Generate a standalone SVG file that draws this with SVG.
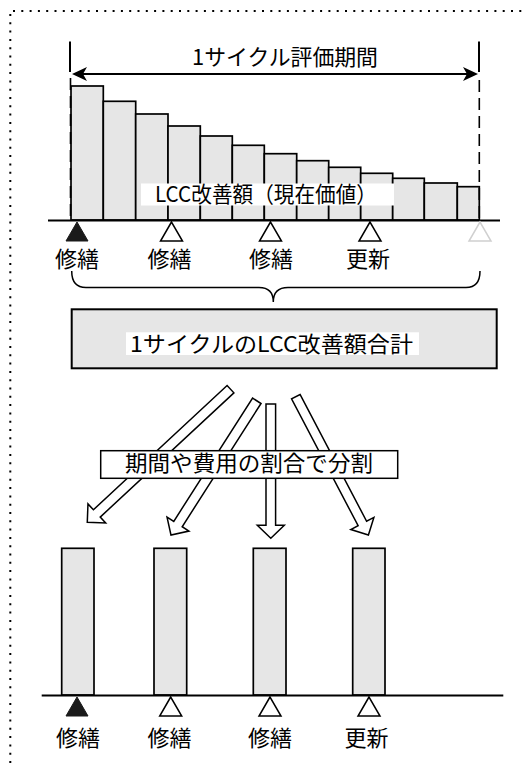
<svg xmlns="http://www.w3.org/2000/svg" width="525" height="766" viewBox="0 0 525 766">
<style>
  .t { font-family: "Noto Sans CJK JP", "Noto Sans", sans-serif; font-size: 22px; fill: #000; }
  .bar { fill: #e6e6e6; stroke: #000; stroke-width: 1.7; }
  .ax { stroke: #000; stroke-width: 2; fill: none; }
  .tri { fill: #fff; stroke: #000; stroke-width: 1.5; stroke-linejoin: miter; }
  .trib { fill: #1a1a1a; stroke: #1a1a1a; stroke-width: 1; }
  .blk { fill: #fff; stroke: #000; stroke-width: 1.5; stroke-linejoin: miter; }
  .dots { stroke: #000; stroke-width: 2; stroke-dasharray: 2 6.3; }
  .dash { stroke: #000; stroke-width: 1.6; stroke-dasharray: 12 6; fill: none; }
</style>
<defs>
  <polygon id="triU" points="0,0 -11,19 11,19"/>
</defs>
<g id="frame">
  <line class="dots" x1="13" y1="11" x2="525" y2="11"/>
  <line class="dots" x1="10.3" y1="14" x2="10.3" y2="766"/>
</g>
<g id="period">
  <line class="ax" x1="70" y1="41.5" x2="70" y2="72"/>
  <line class="ax" x1="479" y1="41.5" x2="479" y2="72"/>
  <line x1="80" y1="74" x2="470" y2="74" stroke="#000" stroke-width="2.2"/>
  <polygon points="72,74 87,67 83,74 87,81" fill="#000"/>
  <polygon points="478,74 463,67 467,74 463,81" fill="#000"/>
  <text class="t" x="285" y="64.5" text-anchor="middle" textLength="186" lengthAdjust="spacingAndGlyphs">1サイクル評価期間</text>
</g>
<g id="bars-top">
  <rect class="bar" x="71" y="86" width="32.3" height="134"/>
  <rect class="bar" x="103.3" y="101.3" width="32.4" height="118.7"/>
  <rect class="bar" x="135.7" y="114" width="32.3" height="106"/>
  <rect class="bar" x="168" y="126" width="32.3" height="94"/>
  <rect class="bar" x="200.3" y="136" width="32" height="84"/>
  <rect class="bar" x="232.3" y="145.3" width="32" height="74.7"/>
  <rect class="bar" x="264.3" y="153.7" width="32.4" height="66.3"/>
  <rect class="bar" x="296.7" y="160.7" width="32" height="59.3"/>
  <rect class="bar" x="328.7" y="167.3" width="32" height="52.7"/>
  <rect class="bar" x="360.7" y="173.3" width="32" height="46.7"/>
  <rect class="bar" x="392.7" y="178.3" width="31.6" height="41.7"/>
  <rect class="bar" x="424.3" y="183" width="33" height="37"/>
  <rect class="bar" x="457.3" y="186.7" width="22" height="33.3"/>
</g>
<g id="lcc-label">
  <rect x="141" y="183.5" width="253" height="22" fill="#fff"/>
  <text class="t" x="266" y="202" text-anchor="middle" textLength="222" lengthAdjust="spacingAndGlyphs">LCC改善額（現在価値）</text>
</g>
<g id="dashed">
  <line class="dash" x1="70.5" y1="78" x2="70.5" y2="220"/>
  <line class="dash" x1="479.3" y1="80" x2="479.3" y2="220"/>
</g>
<g id="axis-top">
  <line class="ax" x1="48" y1="220.5" x2="500" y2="220.5"/>
  <use href="#triU" x="77" y="222" class="trib"/>
  <use href="#triU" x="171.5" y="222" class="tri"/>
  <use href="#triU" x="270.5" y="222" class="tri"/>
  <use href="#triU" x="370" y="222" class="tri"/>
  <use href="#triU" x="480" y="222" fill="#fff" stroke="#d0d0d0" stroke-width="1.5"/>
  <text class="t" x="77" y="267" text-anchor="middle">修繕</text>
  <text class="t" x="169.5" y="267" text-anchor="middle">修繕</text>
  <text class="t" x="271" y="267" text-anchor="middle">修繕</text>
  <text class="t" x="368" y="267" text-anchor="middle">更新</text>
</g>
<g id="connectors">
  <path d="M71.7,271 Q71.7,287.5 86,287.5 L259,287.5 Q273.3,287.5 273.3,302 Q273.3,287.5 288,287.5 L466,287.5 Q480,287.5 480,271" fill="none" stroke="#000" stroke-width="1.5"/>
  <polygon class="blk" transform="translate(230.5,389.2) rotate(137.1)" points="0,-5 182.5,-5 182.5,-13 195.5,0 182.5,13 182.5,5 0,5"/>
  <polygon class="blk" transform="translate(256.8,400.8) rotate(122.6)" points="0,-5 146.3,-5 146.3,-13 159.3,0 146.3,13 146.3,5 0,5"/>
  <polygon class="blk" transform="translate(270.8,404) rotate(90)" points="0,-4.8 121.3,-4.8 121.3,-13.5 134.3,0 121.3,13.5 121.3,4.8 0,4.8"/>
  <polygon class="blk" transform="translate(295.8,396.7) rotate(62.3)" points="0,-4.8 143.2,-4.8 143.2,-13 156.2,0 143.2,13 143.2,4.8 0,4.8"/>
</g>
<g id="total-box">
  <rect x="71.7" y="309.3" width="425" height="59" fill="#e6e6e6" stroke="#000" stroke-width="2"/>
  <rect x="126" y="332.3" width="293" height="22.7" fill="#fff"/>
  <text class="t" x="271.5" y="352" text-anchor="middle" textLength="283" lengthAdjust="spacingAndGlyphs">1サイクルのLCC改善額合計</text>
</g>
<g id="split-label">
  <rect x="100.7" y="450.7" width="297" height="27.6" fill="#fff" stroke="#000" stroke-width="1.5"/>
  <text class="t" x="249" y="470.5" text-anchor="middle" textLength="248" lengthAdjust="spacingAndGlyphs">期間や費用の割合で分割</text>
</g>
<g id="bars-bottom">
  <rect class="bar" x="61.7" y="548.3" width="32.3" height="146.7"/>
  <rect class="bar" x="154" y="548.3" width="32.7" height="146.7"/>
  <rect class="bar" x="253.3" y="548.3" width="32.7" height="146.7"/>
  <rect class="bar" x="352.7" y="548.3" width="32.3" height="146.7"/>
</g>
<g id="axis-bottom">
  <line class="ax" x1="41.7" y1="695.5" x2="503.3" y2="695.5"/>
  <use href="#triU" x="77" y="697" class="trib"/>
  <use href="#triU" x="170.7" y="697" class="tri"/>
  <use href="#triU" x="270" y="697" class="tri"/>
  <use href="#triU" x="369" y="697" class="tri"/>
  <text class="t" x="78" y="745.5" text-anchor="middle">修繕</text>
  <text class="t" x="169.5" y="745.5" text-anchor="middle">修繕</text>
  <text class="t" x="270" y="745.5" text-anchor="middle">修繕</text>
  <text class="t" x="366.5" y="745.5" text-anchor="middle">更新</text>
</g>
</svg>
